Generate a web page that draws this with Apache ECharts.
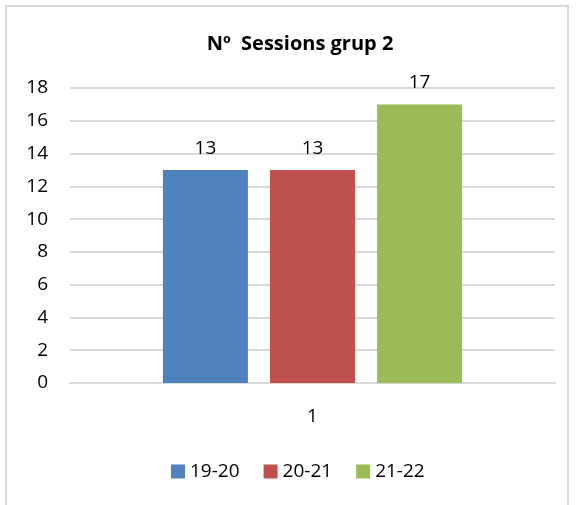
<!DOCTYPE html>
<html>
<head>
<meta charset="utf-8">
<script src="https://cdn.jsdelivr.net/npm/echarts@6/dist/echarts.min.js"></script>
<style>
  html, body { margin: 0; padding: 0; background: #fff; }
  #frame { position: absolute; left: 5px; top: 5px; width: 564px; height: 510px; border: 2px solid #d9d9d9; box-sizing: border-box; }
  #chart { position: absolute; left: 0; top: 0; width: 576px; height: 505px; }
</style>
</head>
<body>
<div id="frame"></div>
<div id="chart"></div>
<script>
// dades del gràfic
const categories = ['1']
const seriesNames = ['19-20', '20-21', '21-22']
const seriesValues = [[13], [13], [17]]
const colors = ['#4f81bd', '#c0504d', '#9bbb59']
const yTicks = { min: 0, max: 18, interval: 2 }

const FONT = '"Open Sans", "Liberation Sans", sans-serif'

const chart = echarts.init(document.getElementById('chart'), null, { renderer: 'canvas' })

chart.setOption({
  animation: false,
  title: {
    text: 'Nº  Sessions grup 2',
    left: 295,
    textAlign: 'center',
    top: 29,
    textStyle: { fontFamily: FONT, fontSize: 20, fontWeight: 'bold', color: '#000' },
  },
  legend: {
    top: 457,
    left: 166,
    itemWidth: 14,
    itemHeight: 14,
    itemGap: 24,
    icon: 'rect',
    textStyle: { fontFamily: FONT, fontSize: 19, color: '#000' },
    data: seriesNames,
  },
  grid: { left: 70, right: 21, top: 88, bottom: 122, containLabel: false },
  xAxis: {
    type: 'category',
    data: categories,
    axisLine: { lineStyle: { color: '#d9d9d9', width: 2 } },
    axisTick: { show: false },
    axisLabel: { fontFamily: FONT, fontSize: 19, color: '#000', margin: 24 },
  },
  yAxis: {
    type: 'value',
    min: yTicks.min,
    max: yTicks.max,
    interval: yTicks.interval,
    axisLine: { show: false },
    axisTick: { show: false },
    axisLabel: { fontFamily: FONT, fontSize: 19, color: '#000', margin: 22 },
    splitLine: { lineStyle: { color: '#d9d9d9', width: 2 } },
  },
  series: seriesNames.map((name, i) => ({
    name,
    type: 'bar',
    data: seriesValues[i],
    barWidth: 85,
    barGap: '26%',
    itemStyle: { color: colors[i] },
    label: {
      show: true,
      position: 'top',
      distance: 12,
      fontFamily: FONT,
      fontSize: 19,
      color: '#000',
    },
  })),
})
</script>
</body>
</html>
